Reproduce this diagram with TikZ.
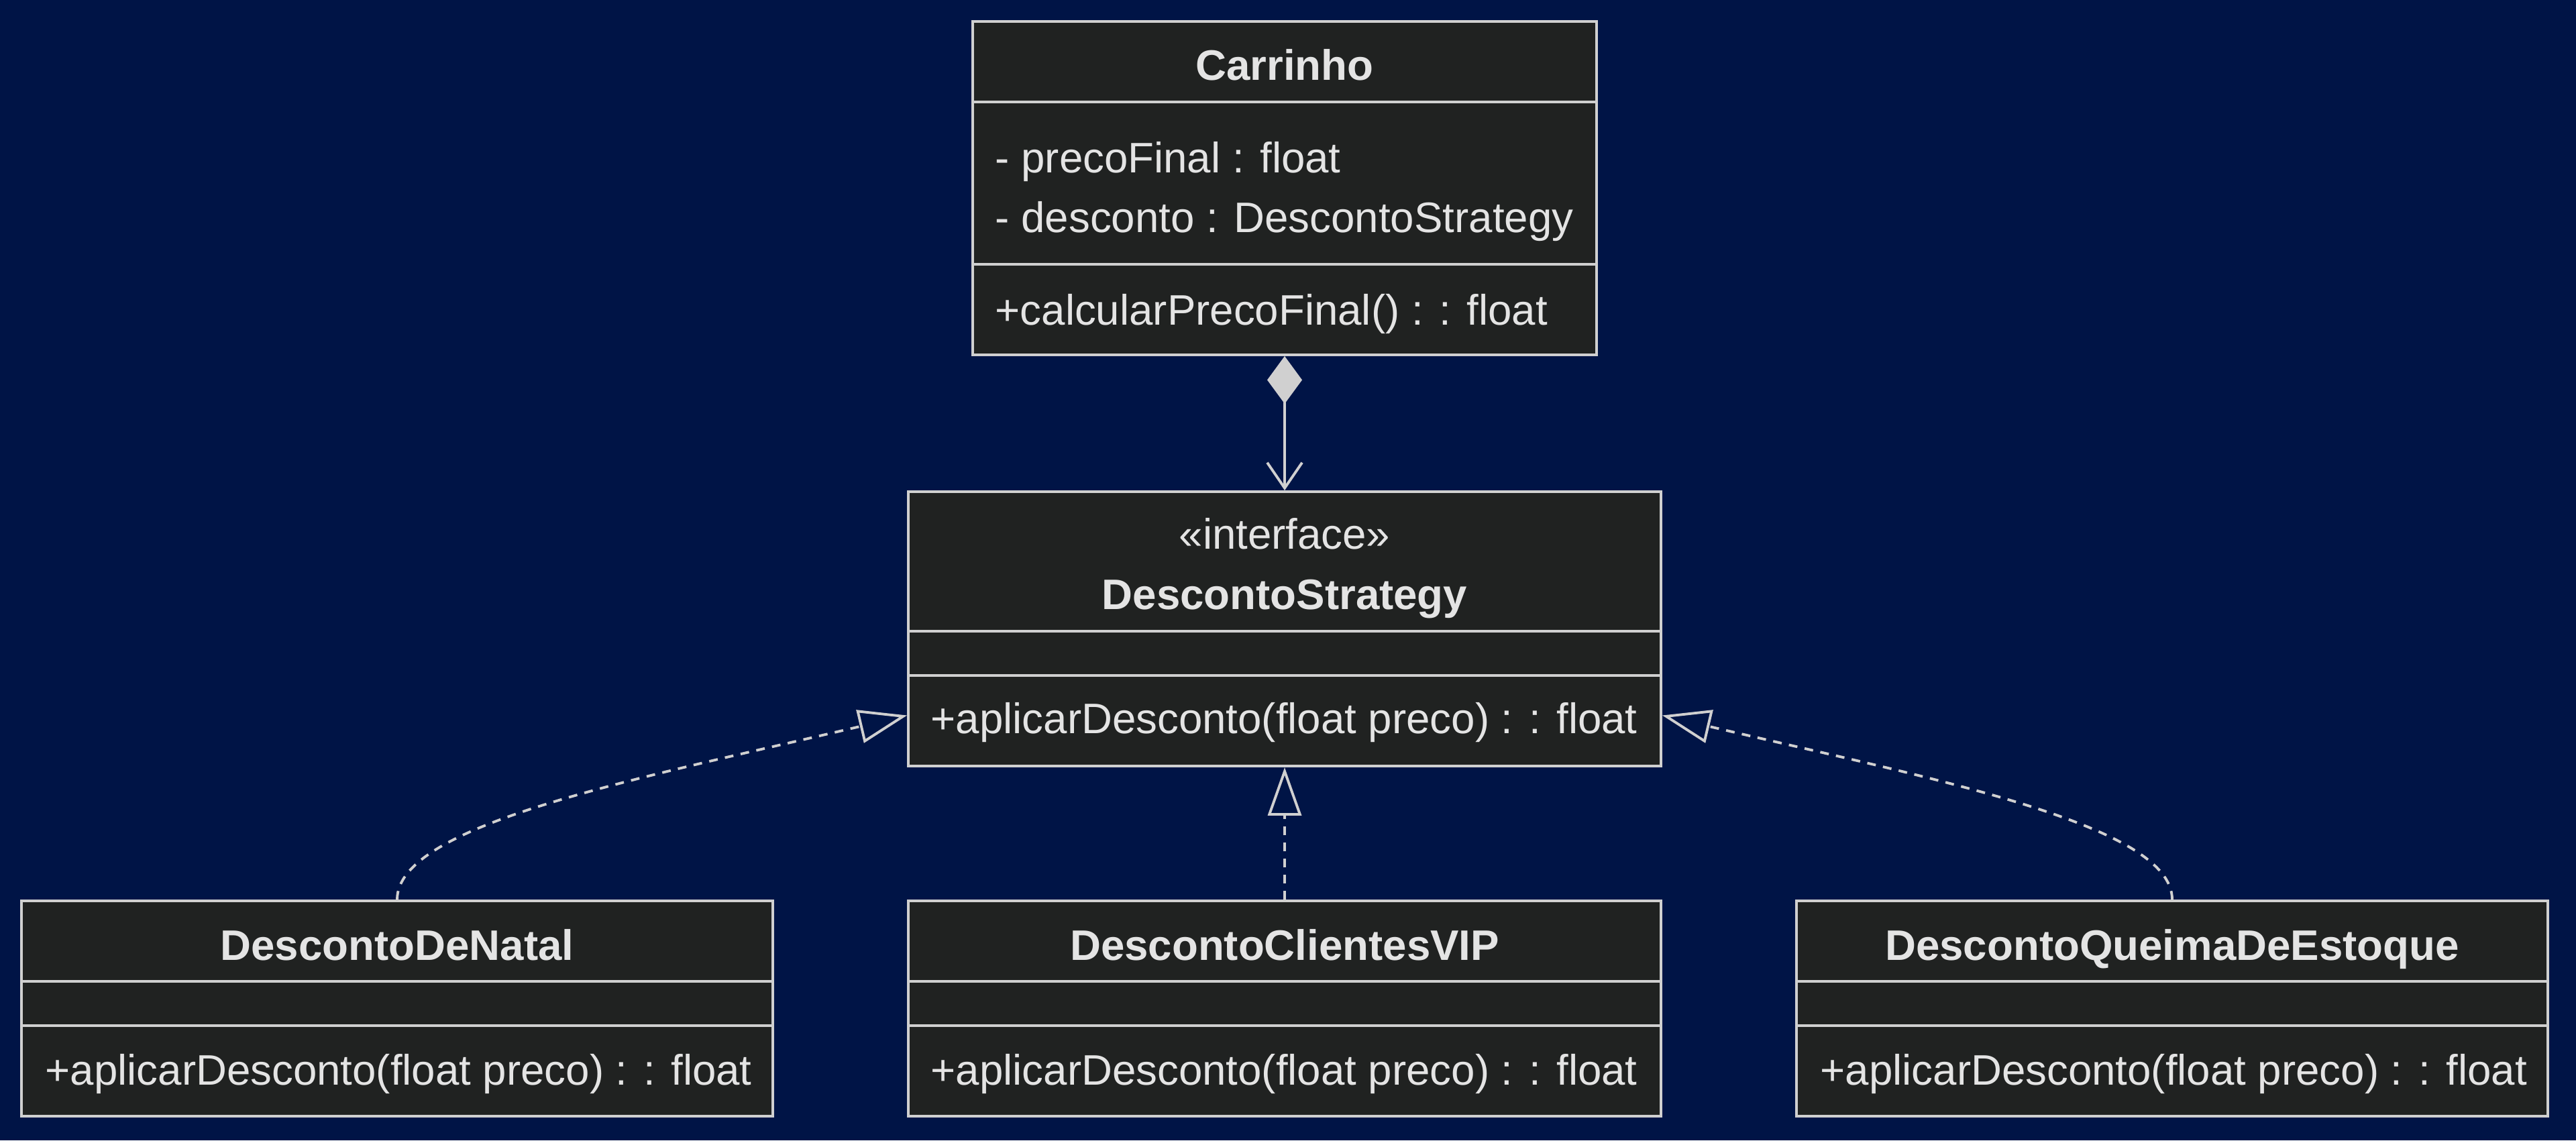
\documentclass[tikz,border=0pt]{standalone}
\usepackage{fontspec}
\setmainfont{Liberation Sans}
\usetikzlibrary{arrows.meta}
\definecolor{navybg}{RGB}{0,20,70}
\definecolor{boxfill}{RGB}{32,34,33}
\definecolor{boxline}{RGB}{208,208,208}
\definecolor{boxtext}{RGB}{228,228,228}
\begin{document}
\begin{tikzpicture}[font=\fontsize{18.1}{22}\selectfont]
    \fill[navybg] (0,0) rectangle (38.4,-17);
    \useasboundingbox (0,0) rectangle (38.4,-17);
    \tikzstyle{compart} = [rectangle,draw=boxline,fill=boxfill,line width=1.1pt,inner sep=0pt,minimum width=11.2cm]
    \tikzstyle{classname} = [anchor=base,text=boxtext,inner sep=0pt,font=\fontsize{18.1}{22}\selectfont\bfseries]
    \tikzstyle{stereo} = [anchor=base,text=boxtext,inner sep=0pt]
    \tikzstyle{member} = [anchor=base west,text=boxtext,inner sep=0pt]
    \tikzstyle{realize} = [draw=boxline,line width=1.1pt,dash pattern=on 0.13cm off 0.11cm,-{Triangle[open,length=0.72cm,width=0.5cm]}]
    \begin{scope}
        \node[compart,minimum width=9.30cm,minimum height=1.20cm] (carhead) at (19.15,-0.92) {};
        \node[compart,minimum width=9.30cm,minimum height=2.42cm] (carattr) at (19.15,-2.73) {};
        \node[compart,minimum width=9.30cm,minimum height=1.35cm] (carmeth) at (19.15,-4.615) {};
        \node[classname] (cartitle) at (19.15,-1.19) {Carrinho};
        \node[member] (carpreco) at (14.83,-2.57) {- precoFinal : float};
        \node[member] (cardesc) at (14.83,-3.46) {- desconto : DescontoStrategy};
        \node[member] (carcalc) at (14.83,-4.84) {+calcularPrecoFinal() : : float};
    \end{scope}
    \begin{scope}
        \node[compart,minimum width=11.22cm,minimum height=2.08cm] (ifhead) at (19.15,-8.37) {};
        \node[compart,minimum width=11.22cm,minimum height=0.66cm] (ifattr) at (19.15,-9.74) {};
        \node[compart,minimum width=11.22cm,minimum height=1.35cm] (ifmeth) at (19.15,-10.745) {};
        \node[stereo] (ifstereo) at (19.15,-8.18) {«interface»};
        \node[classname] (iftitle) at (19.15,-9.08) {DescontoStrategy};
        \node[member] (ifaplic) at (13.87,-10.93) {+aplicarDesconto(float preco) : : float};
    \end{scope}
    \begin{scope}
        \node[compart,minimum height=1.20cm] (natalhead) at (5.92,-14.03) {};
        \node[compart,minimum height=0.66cm] (natalattr) at (5.92,-14.96) {};
        \node[compart,minimum height=1.35cm] (natalmeth) at (5.92,-15.965) {};
        \node[classname] (nataltitle) at (5.92,-14.31) {DescontoDeNatal};
        \node[member] (natalaplic) at (0.67,-16.17) {+aplicarDesconto(float preco) : : float};
        \node[compart,minimum width=11.22cm,minimum height=1.20cm] (viphead) at (19.15,-14.03) {};
        \node[compart,minimum width=11.22cm,minimum height=0.66cm] (vipattr) at (19.15,-14.96) {};
        \node[compart,minimum width=11.22cm,minimum height=1.35cm] (vipmeth) at (19.15,-15.965) {};
        \node[classname] (viptitle) at (19.15,-14.31) {DescontoClientesVIP};
        \node[member] (vipaplic) at (13.87,-16.17) {+aplicarDesconto(float preco) : : float};
        \node[compart,minimum height=1.20cm] (queimahead) at (32.38,-14.03) {};
        \node[compart,minimum height=0.66cm] (queimaattr) at (32.38,-14.96) {};
        \node[compart,minimum height=1.35cm] (queimameth) at (32.38,-15.965) {};
        \node[classname] (queimatitle) at (32.38,-14.31) {DescontoQueimaDeEstoque};
        \node[member] (queimaaplic) at (27.13,-16.17) {+aplicarDesconto(float preco) : : float};
    \end{scope}
    \draw[boxline,line width=1.1pt,{Diamond[fill=boxline,length=0.71cm,width=0.52cm]}-{Straight Barb[length=0.38cm,width=0.52cm]}] (carmeth.south) -- (ifhead.north);
    \draw[realize] (viphead.north) -- (ifmeth.south);
    \draw[realize] (natalhead.north) .. controls +(0,1.12) and +(-4.04,-0.95) .. ([yshift=0.08cm]ifmeth.west);
    \draw[realize] (queimahead.north) .. controls +(0,1.12) and +(4.04,-0.95) .. ([yshift=0.08cm]ifmeth.east);
\end{tikzpicture}
\end{document}
